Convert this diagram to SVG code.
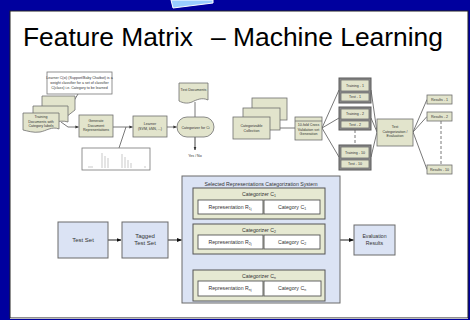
<svg xmlns="http://www.w3.org/2000/svg" width="470" height="320" viewBox="0 0 470 320">
<style>
  text { font-family: "Liberation Sans", Arial, sans-serif; fill: #222; }
  .tiny { font-size: 3.6px; text-anchor: middle; fill: #333; }
  .sm { font-size: 5.2px; text-anchor: middle; fill: #333; }
  .md { font-size: 6px; text-anchor: middle; fill: #333; }
  .title { font-size: 25px; fill: #000; }
  .beige { fill: #e2e4cc; stroke: #6e6e6e; stroke-width: 0.8; }
  .wbox { fill: #ffffff; stroke: #777; stroke-width: 0.8; }
  .grp { fill: #8a8a8a; stroke: #5a5a5a; stroke-width: 1; }
  .blue { fill: #dbe3f4; stroke: #6a6a6a; stroke-width: 1; }
  .cat { fill: #e6e9d2; stroke: #555; stroke-width: 1; }
  .inner { fill: #ffffff; stroke: #555; stroke-width: 0.9; }
  .ln { fill: none; stroke: #555; stroke-width: 0.8; }
  .dash { fill: none; stroke: #555; stroke-width: 0.8; stroke-dasharray: 3 2; }
  .arr { fill: none; stroke: #222; stroke-width: 1; marker-end: url(#ah); }
</style>
<defs>
  <marker id="ah" viewBox="0 0 10 10" refX="9" refY="5" markerWidth="5" markerHeight="5" orient="auto" markerUnits="userSpaceOnUse">
    <path d="M0 1 L10 5 L0 9 Z" fill="#111"/>
  </marker>
  <marker id="ahs" viewBox="0 0 10 10" refX="9" refY="5" markerWidth="3.5" markerHeight="3.5" orient="auto" markerUnits="userSpaceOnUse">
    <path d="M0 1 L10 5 L0 9 Z" fill="#333"/>
  </marker>
</defs>

<!-- background frame -->
<rect x="0" y="0" width="470" height="320" fill="#00009e"/>
<polygon points="171,0 213,0 213,3 173,8" fill="#99ccff" stroke="#ffffff" stroke-width="1"/>
<rect x="10" y="11" width="458" height="307" fill="#ffffff" stroke="#222" stroke-width="1"/>
<line x1="10" y1="318.5" x2="468" y2="318.5" stroke="#bbb" stroke-width="1"/>

<text class="title" x="23" y="45.5" textLength="170" lengthAdjust="spacingAndGlyphs">Feature Matrix</text>
<text class="title" x="211" y="45.5" textLength="232" lengthAdjust="spacingAndGlyphs">– Machine Learning</text>

<!-- connectors -->
<g id="connectors">
  <!-- upper left -->
  <path class="ln" d="M78 94 L66 114"/>
  <path class="ln" d="M61 122 L68 127 L78.5 127" marker-end="url(#ahs)"/>
  <path class="ln" d="M113 127 L132.5 127" marker-end="url(#ahs)"/>
  <path class="ln" d="M126 127 L119 148"/>
  <path class="ln" d="M167 127 L176.5 127" marker-end="url(#ahs)"/>
  <path class="ln" d="M195 102 L195 117"/>
  <path class="ln" d="M195 137 L195 150" style="stroke:#111" marker-end="url(#ahs)"/>
  <!-- upper right -->
  <path class="ln" d="M270 128 L295 128"/>
  <path class="ln" d="M322 128 L339 90 M322 128 L339 118 M322 128 L339 157"/>
  <path class="ln" d="M371 90 L377 132 M371 118 L377 132 M371 157 L377 132"/>
  <path class="dash" d="M355 130 L355 145"/>
  <path class="ln" d="M413 132 L427 99.5 M413 132 L427 116.5 M413 132 L427 169.5"/>
  <path class="dash" d="M441 121 L441 165"/>
  <!-- lower -->
  <path class="arr" d="M108 240 L121 240"/>
  <path class="arr" d="M168 240 L181.5 240"/>
  <path class="arr" d="M340 240 L353.5 240"/>
  <path class="dash" d="M213 255 L213 269 M296 255 L296 269" style="stroke:#444"/>
</g>

<!-- upper-left flow -->
<g id="note">
  <rect class="wbox" x="47" y="72" width="65" height="22"/>
  <text class="tiny" x="79.5" y="79">Learner C(xi) (Support/Baby Chatbot) is a</text>
  <text class="tiny" x="79.5" y="84">weight classifier for a set of classifier</text>
  <text class="tiny" x="79.5" y="89">C(class) i.e. Category to be learned</text>
</g>
<g id="training-docs">
  <path class="beige" d="M42 96 H75 V110 L66 117 C60 115 50 118 42 116 Z"/>
  <path class="beige" d="M33 106 H68 V122 C60 119 48 125 33 123 Z"/>
  <path class="beige" d="M23 113 H59 V129 C52 126 46 131 40 132 C33 133 28 131 23 130 Z"/>
  <text class="tiny" x="41" y="118">Training</text>
  <text class="tiny" x="41" y="122.5">Documents with</text>
  <text class="tiny" x="41" y="127">Category labels</text>
</g>
<g id="generate">
  <rect class="beige" x="79" y="115" width="34" height="22"/>
  <text class="tiny" x="96" y="122">Generate</text>
  <text class="tiny" x="96" y="126.5">Document</text>
  <text class="tiny" x="96" y="131">Representations</text>
</g>
<g id="chart">
  <rect class="wbox" x="82" y="148" width="68" height="22"/>
  <path d="M102 153 V168 M105 156 V168 M108 158 V168 M122 154 V168 M125 157 V168 M128 160 V168 M131 163 V168 M88 167 H93 M145 166 V168" stroke="#bbb" stroke-width="0.8"/>
</g>
<g id="learner">
  <rect class="beige" x="133" y="116" width="34" height="21"/>
  <text class="tiny" x="150" y="125">Learner</text>
  <text class="tiny" x="150" y="130">(SVM, kNN, ...)</text>
</g>
<g id="categorizer">
  <rect class="beige" x="177" y="117" width="37" height="20" rx="10"/>
  <text class="tiny" x="195.5" y="128.5">Categorizer for Ci</text>
</g>
<g id="test-docs">
  <path class="beige" d="M179 83 H208 V100 C202 97 196 100 192 102 C187 104 183 103 179 101 Z"/>
  <text class="tiny" x="193.5" y="91">Test Documents</text>
</g>
<text class="tiny" x="195" y="157">Yes / No</text>

<!-- upper-right flow -->
<g id="collection">
  <rect class="beige" x="252" y="98" width="35" height="22"/>
  <rect class="beige" x="243" y="108" width="37" height="22"/>
  <rect class="beige" x="233" y="117" width="37" height="22"/>
  <text class="tiny" x="251.5" y="127">Categorizable</text>
  <text class="tiny" x="251.5" y="131.5">Collection</text>
</g>
<g id="cv-gen">
  <rect class="beige" x="295" y="117" width="27" height="23"/>
  <line x1="295" y1="121" x2="322" y2="121" stroke="#6e6e6e" stroke-width="0.8"/>
  <text class="tiny" x="308.5" y="126">10-fold Cross</text>
  <text class="tiny" x="308.5" y="130.5">Validation set</text>
  <text class="tiny" x="308.5" y="135">Generation</text>
</g>
<g id="fold-1">
  <rect class="grp" x="339" y="78" width="32" height="25"/>
  <rect class="beige" x="341" y="80" width="28" height="11"/>
  <rect class="beige" x="341" y="93" width="28" height="8"/>
  <text class="tiny" x="355" y="86.5">Training - 1</text>
  <text class="tiny" x="355" y="98.3">Test - 1</text>
</g>
<g id="fold-2">
  <rect class="grp" x="339" y="107" width="32" height="23"/>
  <rect class="beige" x="341" y="109" width="28" height="10"/>
  <rect class="beige" x="341" y="121" width="28" height="7"/>
  <text class="tiny" x="355" y="115">Training - 2</text>
  <text class="tiny" x="355" y="125.8">Test - 2</text>
</g>
<g id="fold-10">
  <rect class="grp" x="339" y="145" width="32" height="25"/>
  <rect class="beige" x="341" y="147" width="28" height="11"/>
  <rect class="beige" x="341" y="160" width="28" height="8"/>
  <text class="tiny" x="355" y="153.5">Training - 10</text>
  <text class="tiny" x="355" y="165.3">Test - 10</text>
</g>
<g id="test-eval">
  <rect class="beige" x="377" y="119" width="36" height="27"/>
  <text class="tiny" x="395" y="128">Test</text>
  <text class="tiny" x="395" y="132.5">Categorization /</text>
  <text class="tiny" x="395" y="137">Evaluation</text>
</g>
<g id="results-1">
  <rect class="beige" x="427" y="95" width="25" height="9"/>
  <text class="tiny" x="439.5" y="100.8">Results - 1</text>
</g>
<g id="results-2">
  <rect class="beige" x="427" y="112" width="25" height="9"/>
  <text class="tiny" x="439.5" y="117.8">Results - 2</text>
</g>
<g id="results-10">
  <rect class="beige" x="427" y="165" width="25" height="9"/>
  <text class="tiny" x="439.5" y="170.8">Results - 10</text>
</g>

<!-- lower flow -->
<g id="test-set">
  <rect class="blue" x="58" y="222" width="50" height="36"/>
  <text class="md" x="83" y="242">Test Set</text>
</g>
<g id="tagged-test-set">
  <rect class="blue" x="122" y="222" width="46" height="36"/>
  <text class="md" x="145" y="237.5">Tagged</text>
  <text class="md" x="145" y="245">Test Set</text>
</g>
<g id="system">
  <rect class="blue" x="182" y="176" width="158" height="127"/>
  <text class="sm" x="261" y="185.5">Selected Representations Categorization System</text>
</g>
<g id="categorizer-1">
  <rect class="cat" x="193" y="188" width="132" height="31"/>
  <text class="sm" x="259" y="196">Categorizer C<tspan style="font-size:3.5px" dy="1">1</tspan></text>
  <rect class="inner" x="198" y="200" width="65" height="14"/>
  <rect class="inner" x="264" y="200" width="56" height="14"/>
  <text class="sm" x="230" y="208.5">Representation R<tspan style="font-size:3.5px" dy="1">1j</tspan></text>
  <text class="sm" x="292" y="208.5">Category C<tspan style="font-size:3.5px" dy="1">1</tspan></text>
</g>
<g id="categorizer-2">
  <rect class="cat" x="193" y="224" width="132" height="30"/>
  <text class="sm" x="259" y="232">Categorizer C<tspan style="font-size:3.5px" dy="1">2</tspan></text>
  <rect class="inner" x="198" y="235" width="65" height="14"/>
  <rect class="inner" x="264" y="235" width="56" height="14"/>
  <text class="sm" x="230" y="243.5">Representation R<tspan style="font-size:3.5px" dy="1">2j</tspan></text>
  <text class="sm" x="292" y="243.5">Category C<tspan style="font-size:3.5px" dy="1">2</tspan></text>
</g>
<g id="categorizer-n">
  <rect class="cat" x="193" y="270" width="132" height="31"/>
  <text class="sm" x="259" y="278">Categorizer C<tspan style="font-size:3.5px" dy="1">n</tspan></text>
  <rect class="inner" x="198" y="281" width="65" height="15"/>
  <rect class="inner" x="264" y="281" width="57" height="15"/>
  <text class="sm" x="230" y="290">Representation R<tspan style="font-size:3.5px" dy="1">nj</tspan></text>
  <text class="sm" x="292" y="290">Category C<tspan style="font-size:3.5px" dy="1">n</tspan></text>
</g>
<g id="evaluation-results">
  <rect class="blue" x="354" y="225" width="41" height="30"/>
  <text class="sm" x="374.5" y="237.5">Evaluation</text>
  <text class="sm" x="374.5" y="244.5">Results</text>
</g>
</svg>
